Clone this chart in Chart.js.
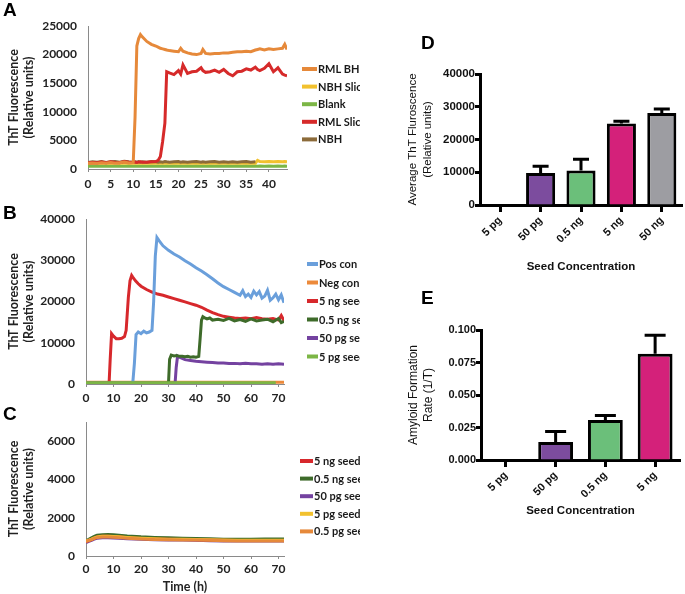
<!DOCTYPE html>
<html>
<head>
<meta charset="utf-8">
<script src="https://cdn.jsdelivr.net/npm/chart.js@4"></script>
<style>
body { margin: 0; background: #fff; }
#wrap { position: relative; width: 685px; height: 594px; overflow: hidden; }
canvas { position: absolute; }
.lbl { position: absolute; font: bold 19px "Liberation Sans", Arial, sans-serif; color: #000; }
</style>
</head>
<body>
<div id="wrap">
  <canvas id="cA" width="360" height="200" style="left:0;top:0"></canvas>
  <canvas id="cB" width="360" height="210" style="left:0;top:200px"></canvas>
  <canvas id="cC" width="360" height="184" style="left:0;top:410px"></canvas>
  <canvas id="cD" width="295" height="260" style="left:390px;top:20px"></canvas>
  <canvas id="cE" width="295" height="240" style="left:390px;top:290px"></canvas>
  <div class="lbl" style="left:3px;top:-1px">A</div>
  <div class="lbl" style="left:3px;top:202px">B</div>
  <div class="lbl" style="left:3px;top:403px">C</div>
  <div class="lbl" style="left:421px;top:32px">D</div>
  <div class="lbl" style="left:421px;top:287px">E</div>
</div>
<script>
// ---- panel A: ThT fluorescence, brain homogenate / slices ----
const timeA = [0,1,2,3,4,5,6,7,8,9,10,10.4,10.8,11.2,11.6,12,13,14,15,15.5,16,16.5,17,17.4,18,19,20,20.5,21,22,23,24,25,25.4,26,27,28,29,30,31,32,33,34,35,36,37,37.5,38,39,40,41,42,43,43.5,44];
const rmlBh = [1000,1050,980,1100,1020,1150,1000,1080,1200,1050,1100,
  9000,21500,22800,23500,23100,22300,21800,21500,21300,21100,
  21000,20900,20800,20700,20600,20500,21100,20600,20300,20100,
  20000,20200,20900,20200,20100,20200,20200,20300,20300,20400,
  20500,20500,20600,20500,20800,20900,21000,20800,21000,20900,
  21000,21100,21800,20900];
const rmlSlices = [1100,1150,1100,1200,1100,1250,1150,1100,1300,1200,1150,
  1200,1150,1200,1250,1200,1200,1250,1300,
  1500,2200,4800,8000,17000,16800,16500,17200,16600,18200,
  16700,17000,17100,17700,17200,16900,17000,17300,16900,17400,
  16700,16300,17000,17100,17500,17300,17800,17400,17200,17600,
  18400,17000,17700,16600,16400,16300];
const nbhSlices = [1000,1000,1050,1000,1050,1000,1000,1050,1000,1050,1000,
  1000,1000,1050,1000,1000,1050,1000,1000,1050,1000,
  1000,1050,1000,1000,1050,1000,1000,1050,1000,1000,
  1050,1000,1000,1050,1000,1000,1050,1000,1000,1050,
  1000,1000,1050,1000,1000,
  1500,1300,1250,1300,1250,1300,1250,1300,1250];
const nbh = [1150,1250,1200,1300,1150,1250,1300,1200,1350,1250,1200,
  1250,1200,1300,1200,1250,1200,1300,1250,1200,1250,
  1200,1300,1250,1200,1250,1300,1200,1250,1200,1250,
  1300,1200,1250,1200,1250,1300,1200,1250,1200,1250,
  1200,1250,1300,1200,1250,
  null,null,null,null,null,null,null,null,null];
const blank = [500,520,500,510,500,520,500,510,500,520,500,
  510,500,520,500,510,500,520,500,510,500,
  520,500,510,500,520,500,510,500,520,500,
  510,500,520,500,510,500,520,500,510,500,
  520,500,510,500,520,500,510,500,520,500,
  510,500,520,500];

// ---- panel B: seeded reactions ----
const posConT = [0,17,17.6,18.2,19,20,21,22,23,24,24.6,25.2,25.8,26.5,28,30,32,34,36,38,40,42,44,46,48,50,52,54,56,57,58,59,60,61,62,63,64,65,66,67,68,69,70,71,72];
const posConY = [200,200,5000,12000,12600,12200,12800,12400,12600,13000,20000,31000,35500,34800,33500,32400,31500,30800,29900,29100,28200,27400,26500,25500,24500,23600,22900,22200,21500,22600,21200,21800,21000,22500,21600,22400,20800,21300,22700,20300,20900,21800,20400,21600,19700];
const negConT = [0,72];
const negConY = [400,400];
const ng5T = [0,8.4,8.8,9.3,10,11,12,13,14,14.6,15.4,16,16.6,17,18,19,20,22,24,26,28,30,32,34,36,38,40,42,44,46,48,50,52,54,56,58,60,62,64,66,68,70,71,72];
const ng5Y = [200,200,6000,12200,11600,11000,11000,11100,11500,13000,21000,25000,26300,25900,25000,24300,23700,22900,22300,21800,21500,21100,20700,20300,19900,19500,19100,18600,17900,17300,16800,16400,16200,16000,15900,16000,15800,16100,15800,15700,15900,15500,16600,15300];
const ng05T = [0,30,30.4,31,32,33,34,35,36,37,38,39,40,41,41.5,42,42.5,43,44,45,46,48,50,52,54,56,58,60,62,64,66,68,70,71,72];
const ng05Y = [200,200,6000,7000,6800,6900,6700,6700,6600,6700,6500,6600,6500,6700,11000,15500,16300,16100,15800,16000,15500,15700,15400,15900,15300,15600,15200,15800,15300,15500,15700,15100,15900,14900,15200];
const pg50T = [0,32.4,32.8,33.3,34,35,36,38,40,42,44,46,48,50,52,54,56,58,60,62,64,66,68,70,72];
const pg50Y = [200,200,4000,6800,6500,6200,5900,5700,5500,5400,5300,5200,5100,5100,5000,5000,4900,5000,4900,4900,4800,4900,4800,4900,4800];
const pg5T = [0,69];
const pg5Y = [300,300];

// ---- panel C: unseeded-like controls ----
const timeC = [0,1,2,3,4,5,6,8,10,12,15,20,25,30,35,40,45,50,55,60,65,70,72];
const cNg5 = [750,800,850,920,1000,1020,1030,1030,1020,1000,960,920,890,870,860,850,840,820,810,810,810,810,810];
const cNg05 = [800,870,950,1030,1080,1100,1110,1120,1110,1090,1050,1000,970,950,930,920,900,880,870,880,890,890,890];
const cPg50 = [700,760,820,880,920,940,950,950,940,930,900,870,850,840,830,820,800,790,780,780,780,780,780];
const cPg5 = [780,830,880,950,1000,1020,1030,1030,1020,1000,970,930,900,880,870,860,850,830,820,820,820,820,820];
const cPg05 = [760,810,860,920,960,980,990,990,980,960,930,890,860,850,840,830,820,800,790,790,790,790,790];
const yTicksC = [0,2000,4000,6000];

// ---- panel D / E: bar charts ----
const seedLabelsD = ['5 pg','50 pg','0.5 ng','5 ng','50 ng'];
const avgThT = [200,9800,10500,24900,28100];
const avgThTErr = [0,2000,3500,700,1200];
const seedLabelsE = ['5 pg','50 pg','0.5 ng','5 ng'];
const formRate = [0,0.0138,0.0308,0.0817];
const formRateErr = [0,0.0082,0.0035,0.0143];

const pts = (t, y) => t.map((x, i) => ({ x: x, y: y[i] }));

const sideLegend = {
  id: 'sideLegend',
  afterDraw(chart, args, opts) {
    const ctx = chart.ctx;
    ctx.save();
    ctx.font = 'bold 11px Lato';
    ctx.textBaseline = 'middle';
    chart.data.datasets.forEach((ds, i) => {
      const y = opts.y + i * opts.gap;
      ctx.strokeStyle = ds.borderColor;
      ctx.lineWidth = 4;
      ctx.beginPath();
      ctx.moveTo(opts.x, y);
      ctx.lineTo(opts.x + opts.len, y);
      ctx.stroke();
      ctx.fillStyle = '#1a1a1a';
      ctx.fillText(ds.label, opts.x + opts.len + 1, y + 0.5);
    });
    ctx.restore();
  }
};

const errorBars = {
  id: 'errorBars',
  afterDatasetsDraw(chart, args, opts) {
    const meta = chart.getDatasetMeta(0);
    const ys = chart.scales.y;
    const vals = chart.data.datasets[0].data;
    const ctx = chart.ctx;
    ctx.save();
    ctx.strokeStyle = '#000';
    ctx.lineWidth = 3;
    meta.data.forEach((bar, i) => {
      const e = opts.errors[i];
      if (!e) return;
      const yTop = ys.getPixelForValue(vals[i] + e);
      ctx.beginPath();
      ctx.moveTo(bar.x, bar.y);
      ctx.lineTo(bar.x, yTop);
      ctx.moveTo(bar.x - opts.cap / 2, yTop);
      ctx.lineTo(bar.x + opts.cap / 2, yTop);
      ctx.stroke();
    });
    ctx.restore();
  }
};

const latoTick = { family: 'Lato', weight: 'bold', size: 12 };
const latoTitle = { family: 'Lato', weight: 'bold', size: 12.5, lineHeight: 1.2 };

function lineChart(id, datasets, o) {
  new Chart(document.getElementById(id), {
    type: 'line',
    data: { datasets: datasets },
    options: {
      responsive: false,
      animation: false,
      layout: { padding: { top: o.top, right: o.right, left: 0, bottom: 0 } },
      elements: { point: { radius: 0 }, line: { borderWidth: 3, tension: 0 } },
      plugins: { legend: { display: false }, tooltip: { enabled: false }, sideLegend: o.legend },
      scales: {
        x: {
          type: 'linear', min: 0, max: o.xMax,
          ticks: { stepSize: o.xStep, includeBounds: false, font: latoTick, color: '#222', padding: o.xPad, maxRotation: 0 },
          grid: { display: true, drawOnChartArea: false, tickLength: 3, color: '#8a8a8a' },
          border: { color: '#8a8a8a' },
          title: o.xTitle ? { display: true, text: o.xTitle, font: latoTitle, color: '#222', padding: { top: 0, bottom: 0 } } : { display: false },
          afterFit: s => { s.height = o.xH; }
        },
        y: {
          min: 0, max: o.yMax,
          ticks: { stepSize: o.yStep, includeBounds: false, font: latoTick, color: '#222', padding: 3, callback: v => String(v) },
          grid: { display: false },
          border: { color: '#8a8a8a' },
          title: { display: true, text: ['ThT Fluorescence', '(Relative units)'], font: latoTitle, color: '#222', padding: { top: 6, bottom: 0 } },
          afterBuildTicks: o.yTicks ? (s => { s.ticks = o.yTicks.map(v => ({ value: v })); }) : undefined,
          afterFit: s => { s.width = o.yW; }
        }
      }
    },
    plugins: [sideLegend]
  });
}

const ds = (label, color, data, order) => ({ label: label, borderColor: color, backgroundColor: color, data: data, order: order });

lineChart('cA', [
  ds('RML BH', '#e6893a', pts(timeA, rmlBh), 0),
  ds('NBH Slices', '#f2c12e', pts(timeA, nbhSlices), 3),
  ds('Blank', '#7cb646', pts(timeA, blank), 4),
  ds('RML Slices', '#d62a2a', pts(timeA, rmlSlices), 1),
  ds('NBH', '#8c6b3a', pts(timeA, nbh), 2)
], { top: 26, right: 73, yW: 88, xH: 31, xMax: 44, xStep: 5, yMax: 25000, yStep: 5000, xPad: 5,
     legend: { x: 302, y: 69, gap: 17.6, len: 15 } });

lineChart('cB', [
  ds('Pos con', '#6a9fdb', pts(posConT, posConY), 2),
  ds('Neg con', '#ec8a3b', pts(negConT, negConY), 5),
  ds('5 ng seed', '#d7282c', pts(ng5T, ng5Y), 3),
  ds('0.5 ng seed', '#3e6b2a', pts(ng05T, ng05Y), 1),
  ds('50 pg seed', '#7442a0', pts(pg50T, pg50Y), 4),
  ds('5 pg seed', '#7cb646', pts(pg5T, pg5Y), 0)
], { top: 19, right: 76, yW: 86, xH: 26, xMax: 72, xStep: 10, yMax: 40000, yStep: 10000, xPad: 4,
     legend: { x: 307, y: 64, gap: 18.5, len: 11 } });

lineChart('cC', [
  ds('5 ng seed', '#d7282c', pts(timeC, cNg5), 2),
  ds('0.5 ng seed', '#3e6b2a', pts(timeC, cNg05), 4),
  ds('50 pg seed', '#7442a0', pts(timeC, cPg50), 3),
  ds('5 pg seed', '#f2c12e', pts(timeC, cPg5), 1),
  ds('0.5 pg seed', '#e6893a', pts(timeC, cPg05), 0)
], { top: 12, right: 76, yW: 86, xH: 38, xMax: 72, xStep: 10, yMax: 7000, yStep: 2000, yTicks: yTicksC, xPad: 3, xTitle: 'Time (h)',
     legend: { x: 300, y: 51, gap: 17.6, len: 13 } });

const arialTick = size => ({ family: 'Liberation Sans', weight: 'bold', size: size });

function barChart(id, labels, values, errors, colors, o) {
  new Chart(document.getElementById(id), {
    type: 'bar',
    data: {
      labels: labels,
      datasets: [{
        data: values, backgroundColor: colors, borderColor: '#000', borderWidth: 3,
        borderSkipped: 'bottom', barPercentage: o.barPct, categoryPercentage: 1
      }]
    },
    options: {
      responsive: false,
      animation: false,
      layout: { padding: { top: o.top, right: o.right, left: 0, bottom: 0 } },
      plugins: { legend: { display: false }, tooltip: { enabled: false }, errorBars: { errors: errors, cap: o.cap } },
      scales: {
        x: {
          grid: { display: true, drawOnChartArea: false, offset: false, tickLength: 7, tickWidth: 3, tickColor: '#000' },
          border: { color: '#000', width: 3 },
          ticks: { minRotation: 45, maxRotation: 45, font: arialTick(11), color: '#111', padding: 2 },
          title: { display: true, text: 'Seed Concentration', font: { family: 'Liberation Sans', weight: 'bold', size: 11.5 }, color: '#111', padding: { top: 0, bottom: o.xTitlePad } },
          afterFit: s => { s.height = o.xH; }
        },
        y: {
          min: 0, max: o.yMax,
          ticks: { stepSize: o.yStep, font: arialTick(o.tickSize), color: '#111', padding: 0, callback: o.fmt },
          grid: { display: true, drawOnChartArea: false, tickLength: 5, tickWidth: 3, tickColor: '#000' },
          border: { color: '#000', width: 3 },
          title: { display: true, text: o.yTitle, font: { family: 'Liberation Sans', size: o.titleSize, lineHeight: 1.25 }, color: '#111', padding: { top: 16, bottom: 0 } },
          afterFit: s => { s.width = o.yW; }
        }
      }
    },
    plugins: [errorBars]
  });
}

barChart('cD', seedLabelsD, avgThT, avgThTErr, ['#fff', '#7c4c9e', '#6bbf7a', '#d4217a', '#9d9da2'], {
  top: 54, right: 3, yW: 90, xH: 75, yMax: 40000, yStep: 10000, barPct: 0.72, cap: 16, tickSize: 11.5, titleSize: 11.5,
  xTitlePad: 6, yTitle: ['Average ThT Fluroscence', '(Relative units)'], fmt: v => String(v)
});

barChart('cE', seedLabelsE, formRate, formRateErr, ['#fff', '#7c4c9e', '#6bbf7a', '#d4217a'], {
  top: 40, right: 5, yW: 91, xH: 70, yMax: 0.1, yStep: 0.025, barPct: 0.7, cap: 21, tickSize: 11, titleSize: 12,
  xTitlePad: 12, yTitle: ['Amyloid Formation', 'Rate (1/T)'], fmt: v => v.toFixed(3)
});
</script>
</body>
</html>
